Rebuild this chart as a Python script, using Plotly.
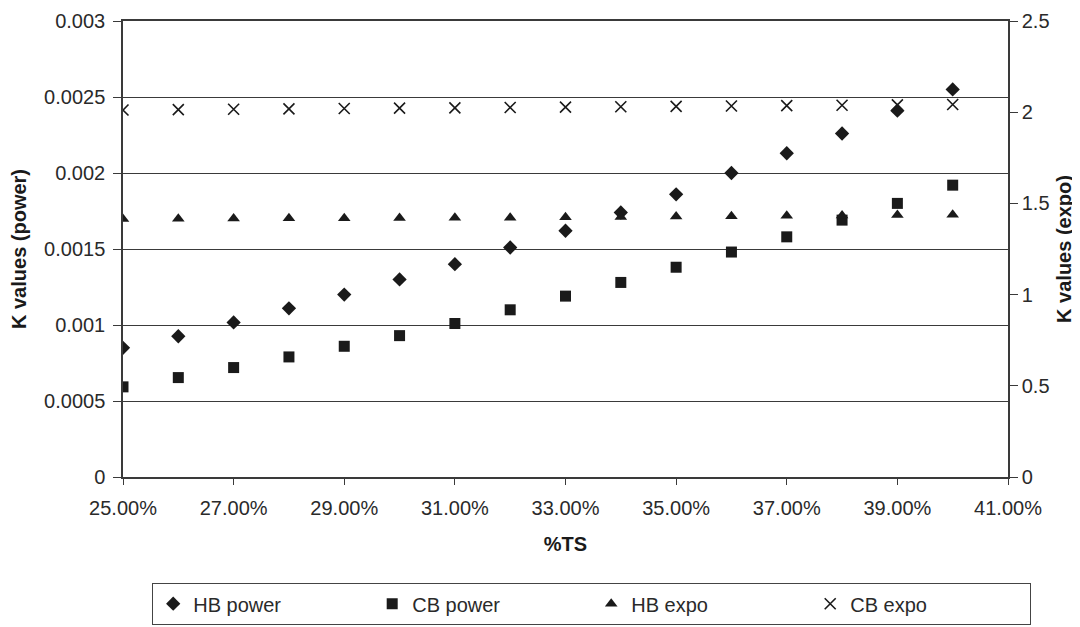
import plotly.graph_objects as go

ts = [0.25, 0.26, 0.27, 0.28, 0.29, 0.30, 0.31, 0.32,
      0.33, 0.34, 0.35, 0.36, 0.37, 0.38, 0.39, 0.40]

hb_power = [0.00085, 0.000926, 0.001017, 0.00111, 0.0012, 0.0013, 0.0014, 0.00151,
            0.00162, 0.00174, 0.00186, 0.002, 0.00213, 0.00226, 0.00241, 0.00255]
cb_power = [0.000593, 0.000654, 0.00072, 0.00079, 0.00086, 0.00093, 0.00101, 0.0011,
            0.00119, 0.00128, 0.00138, 0.00148, 0.00158, 0.00169, 0.0018, 0.00192]
hb_expo = [1.415, 1.416, 1.417, 1.418, 1.419, 1.42, 1.421, 1.422,
           1.424, 1.426, 1.428, 1.43, 1.432, 1.434, 1.436, 1.438]
cb_expo = [2.012, 2.014, 2.016, 2.018, 2.02, 2.022, 2.024, 2.026,
           2.028, 2.03, 2.032, 2.034, 2.036, 2.038, 2.04, 2.042]

left_ticks = [0, 0.0005, 0.001, 0.0015, 0.002, 0.0025, 0.003]
left_text = ["0", "0.0005", "0.001", "0.0015", "0.002", "0.0025", "0.003"]
right_ticks = [0, 0.5, 1, 1.5, 2, 2.5]
right_text = ["0", "0.5", "1", "1.5", "2", "2.5"]

ink = "#1a1a1a"
line_col = "#3a3a3a"
font = "Liberation Sans, Arial, sans-serif"

fig = go.Figure()
fig.add_trace(go.Scatter(x=ts, y=hb_power, mode="markers", name="HB power",
                         marker=dict(symbol="diamond", size=11, color=ink)))
fig.add_trace(go.Scatter(x=ts, y=cb_power, mode="markers", name="CB power",
                         marker=dict(symbol="square", size=11, color=ink)))
fig.add_trace(go.Scatter(x=ts, y=hb_expo, mode="markers", name="HB expo", yaxis="y2",
                         marker=dict(symbol="triangle-up", size=11, color=ink)))
fig.add_trace(go.Scatter(x=ts, y=cb_expo, mode="markers", name="CB expo", yaxis="y2",
                         marker=dict(symbol="x-thin", size=11, color=ink,
                                     line=dict(color=ink, width=1.6))))

# the page body adds an 8px offset, so the figure is sized/margined to compensate
fig.update_layout(
    width=1072, height=619,
    margin=dict(l=115, r=72, t=13, b=150, autoexpand=False),
    paper_bgcolor="white", plot_bgcolor="white",
    font=dict(family=font, size=20, color="#2a2a2a"),
    showlegend=True,
    legend=dict(orientation="h", x=(144 - 115) / 885, xanchor="left",
                y=-0.2325, yanchor="top",
                bordercolor="#444", borderwidth=1.2, entrywidth=174, entrywidthmode="pixels",
                font=dict(size=20), itemwidth=30, tracegroupgap=0),
    xaxis=dict(range=[0.25, 0.41], dtick=0.02, tick0=0.25, tickformat=".2%",
               showgrid=False, showline=True, linecolor=line_col, linewidth=1.5,
               mirror=True,
               ticks="outside", ticklen=6, tickcolor=line_col, automargin=False,
               ticklabelstandoff=6,
               title=dict(text="<b>%TS</b>", standoff=19, font=dict(size=20, color="#1a1a1a")),
               zeroline=False),
    yaxis=dict(range=[0, 0.003], tickvals=left_ticks, ticktext=left_text,
               showgrid=True, gridcolor=line_col, gridwidth=1.4,
               showline=True, linecolor=line_col, linewidth=1.5, automargin=False,
               ticks="outside", ticklen=8, tickcolor=line_col, zeroline=False,
               ticklabelstandoff=4, ticklabeloverflow="allow",
               title=dict(text="<b>K values (power)</b>", standoff=12,
                          font=dict(size=20, color="#1a1a1a"))),
    yaxis2=dict(range=[0, 2.5], tickvals=right_ticks, ticktext=right_text,
                overlaying="y", side="right", showgrid=False, automargin=False,
                showline=True, linecolor=line_col, linewidth=1.5,
                ticks="outside", ticklen=8, tickcolor=line_col, zeroline=False,
                ticklabeloverflow="allow",
                title=dict(text="<b>K values (expo)</b>", standoff=8,
                           font=dict(size=20, color="#1a1a1a"))),
)

fig.write_html("out.html")
